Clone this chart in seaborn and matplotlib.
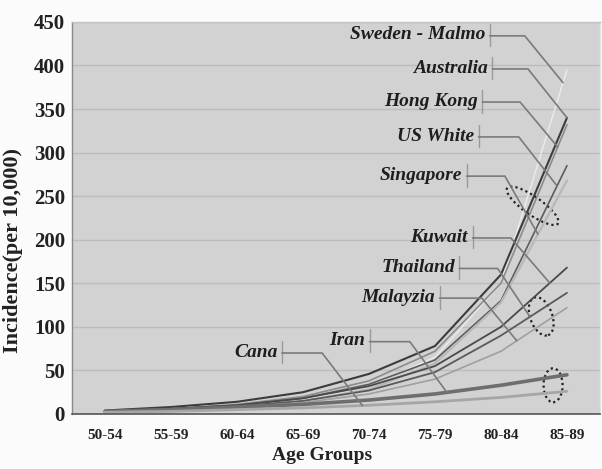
import numpy as np
import pandas as pd
import matplotlib
matplotlib.use("Agg")
import matplotlib.pyplot as plt
import matplotlib.transforms as mtransforms
from matplotlib.patches import Ellipse
import seaborn as sns

# --- data (incidence per 10,000) ---
age_groups = ["50-54", "55-59", "60-64", "65-69", "70-74", "75-79", "80-84", "85-89"]
sweden_malmo = [3, 5, 9, 16, 32, 65, 150, 395]
australia = [4, 8, 14, 25, 46, 78, 160, 340]
hong_kong = [3, 6, 11, 20, 38, 72, 150, 332]
us_white = [3, 6, 10, 18, 34, 62, 130, 285]
singapore = [2, 4, 8, 15, 28, 58, 128, 268]
kuwait = [3, 6, 10, 18, 32, 55, 100, 168]
thailand = [2, 5, 9, 15, 27, 48, 90, 139]
malayzia = [2, 4, 8, 13, 23, 40, 72, 122]
iran = [3, 5, 8, 11, 16, 23, 33, 45]
cana = [2, 3, 5, 7, 10, 14, 19, 26]

series = {
    "Sweden - Malmo": sweden_malmo,
    "Australia": australia,
    "Hong Kong": hong_kong,
    "US White": us_white,
    "Singapore": singapore,
    "Kuwait": kuwait,
    "Thailand": thailand,
    "Malayzia": malayzia,
    "Iran": iran,
    "Cana": cana,
}

colors = {
    "Sweden - Malmo": "#ececec", "Australia": "#3c3c3c", "Hong Kong": "#8c8c8c",
    "US White": "#5c5c5c", "Singapore": "#b8b8b8", "Kuwait": "#4a4a4a",
    "Thailand": "#5a5a5a", "Malayzia": "#a0a0a0", "Iran": "#6e6e6e", "Cana": "#a6a6a6",
}
widths = {
    "Sweden - Malmo": 1.0, "Australia": 1.5, "Hong Kong": 1.2, "US White": 1.2,
    "Singapore": 1.6, "Kuwait": 1.3, "Thailand": 1.3, "Malayzia": 1.2,
    "Iran": 2.6, "Cana": 2.0,
}

# label placement: (text right edge x, text y, knee x, target x on the curve)
labels = {
    "Sweden - Malmo": (5.76, 435, 6.36, 6.94),
    "Australia": (5.80, 397, 6.41, 7.0),
    "Hong Kong": (5.65, 359, 6.29, 6.86),
    "US White": (5.59, 319, 6.27, 6.85),
    "Singapore": (5.41, 274, 6.06, 6.56),
    "Kuwait": (5.50, 203, 6.15, 6.74),
    "Thailand": (5.30, 168, 5.95, 6.44),
    "Malayzia": (5.00, 134, 5.71, 6.24),
    "Iran": (3.94, 84, 4.62, 5.18),
    "Cana": (2.61, 71, 3.29, 3.90),
}

pos = np.arange(len(age_groups))
df = pd.DataFrame(
    [(name, i, v) for name, vals in series.items() for i, v in zip(pos, vals)],
    columns=["country", "pos", "incidence"],
)

sns.set_theme(style="white")
plt.rcParams["font.family"] = ["Liberation Serif", "DejaVu Serif"]

fig = plt.figure(figsize=(6.02, 4.69), dpi=100, facecolor="#fbfbfb")
ax = fig.add_axes([0.1196, 0.1173, 0.877, 0.836])
ax.set_facecolor("#d2d2d2")

sns.lineplot(data=df, x="pos", y="incidence", hue="country", palette=colors,
             size="country", sizes=widths, legend=False, ax=ax)

ax.set_xlim(-0.5, len(age_groups) - 0.5)
ax.set_ylim(0, 450)
ax.set_yticks(np.arange(0, 451, 50))
ax.yaxis.grid(True, color="#bcbcbc", lw=1)
ax.set_axisbelow(True)

ax.set_xticks(pos)
ax.set_xticklabels(age_groups, fontsize=11, fontweight="bold", color="#222222")
ax.set_xticks(np.arange(-0.5, len(age_groups)), minor=True)
ax.tick_params(axis="x", which="major", length=0, pad=11)
ax.tick_params(axis="x", which="minor", length=4, width=1, color="#555555", direction="out")
ax.tick_params(axis="y", length=3, width=1, color="#888888", direction="out", pad=2,
               labelsize=15, labelcolor="#222222")
for t in ax.get_yticklabels():
    t.set_fontweight("bold")

ax.set_xlabel("Age Groups", fontsize=14, fontweight="bold", color="#222222")
ax.set_ylabel("Incidence(per 10,000)", fontsize=16, fontweight="bold", color="#222222")
ax.xaxis.set_label_coords(0.473, -0.083)
ax.yaxis.set_label_coords(-0.093, 0.418)

for side, col, lw in [("left", "#8a8a8a", 1.0), ("bottom", "#555555", 1.2),
                      ("top", "#c4c4c4", 1.0), ("right", "#e4e4e4", 1.0)]:
    ax.spines[side].set_visible(True)
    ax.spines[side].set_color(col)
    ax.spines[side].set_linewidth(lw)

# labels with leader lines
lead_col = "#7a7a7a"
for name, (tx, ty, kx, cx) in labels.items():
    ax.text(tx, ty, name, ha="right", va="center", fontsize=14,
            fontweight="bold", style="italic", color="#1e1e1e")
    bx = tx + 0.07
    ax.plot([bx, bx], [ty - 13, ty + 13], color="#9a9a9a", lw=1)
    cy = np.interp(cx, pos, series[name])
    ax.plot([bx, kx, cx], [ty - 1, ty - 1, cy], color=lead_col, lw=1.2)

# dotted ellipses (size in inches, anchored to data points)
ellipses = [
    (6.48, 239, 0.62, 0.18, -35),
    (6.61, 112, 0.22, 0.40, 20),
    (6.79, 33, 0.19, 0.34, 0),
]
for ex, ey, w, h, ang in ellipses:
    trans = fig.dpi_scale_trans + mtransforms.ScaledTranslation(ex, ey, ax.transData)
    ax.add_patch(Ellipse((0, 0), w, h, angle=ang, transform=trans, fill=False,
                         ec="#222222", lw=1.6, ls=(0, (1, 1.4))))

fig.savefig("out.png", dpi=100, facecolor=fig.get_facecolor())
